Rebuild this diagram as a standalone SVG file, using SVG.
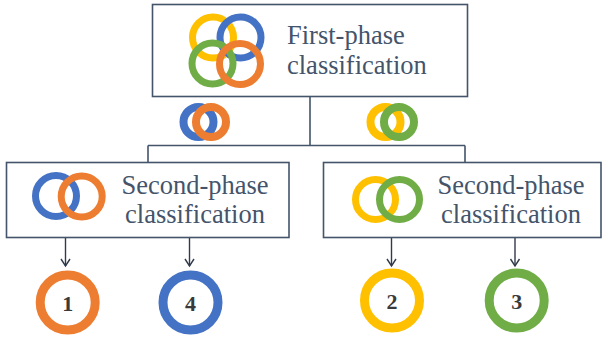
<svg xmlns="http://www.w3.org/2000/svg" width="602" height="339" viewBox="0 0 602 339">
<defs>
<marker id="arr" markerWidth="12" markerHeight="12" refX="8" refY="6" orient="auto" markerUnits="userSpaceOnUse">
<path d="M1,1.5 L8,6 L1,10.5" fill="none" stroke="#2f3a4a" stroke-width="1.4"/>
</marker>
</defs>
<style>
.box{fill:#fff;stroke:#44546A;stroke-width:1.6}
.lbl{font-family:"Liberation Serif","Times New Roman",serif;font-size:26.5px;fill:#44546A}
.num{font-family:"Liberation Serif","Times New Roman",serif;font-size:22px;font-weight:bold;fill:#3a3a3a;text-anchor:middle}
.ring{fill:none}
.y{stroke:#FFC000}.b{stroke:#4472C4}.g{stroke:#70AD47}.o{stroke:#ED7D31}
.con{fill:none;stroke:#44546A;stroke-width:1.6}
.ar{fill:none;stroke:#2f3a4a;stroke-width:1.4}
</style>
<rect width="602" height="339" fill="#fff"/>
<g id="connectors">
<path class="con" d="M310,97 V145.5 M148,145.5 H465 M148,145.5 V162.5 M465,145.5 V162.5"/>
<path class="ar" d="M65.5,238 V266" marker-end="url(#arr)"/>
<path class="ar" d="M189.5,238 V266" marker-end="url(#arr)"/>
<path class="ar" d="M391.5,238 V266" marker-end="url(#arr)"/>
<path class="ar" d="M515,238 V266" marker-end="url(#arr)"/>
</g>
<g id="first-phase">
<rect class="box" x="152.5" y="4.5" width="315" height="92"/>
<g stroke-width="7" class="ring">
<circle class="y" cx="213" cy="37.5" r="20.5"/>
<circle class="b" cx="240.5" cy="37.5" r="20.5"/>
<circle class="g" cx="212.5" cy="63.5" r="20.5"/>
<circle class="o" cx="240" cy="64" r="20.5"/>
</g>
<text class="lbl" x="287" y="43.5">First-phase</text>
<text class="lbl" x="287" y="73.5">classification</text>
</g>
<g id="group-blue-orange">
<circle class="ring b" cx="198.5" cy="122" r="15" stroke-width="8"/>
<circle class="ring o" cx="211" cy="122" r="15" stroke-width="8"/>
</g>
<g id="group-yellow-green">
<circle class="ring y" cx="385.5" cy="122" r="15" stroke-width="8"/>
<circle class="ring g" cx="399" cy="122" r="15" stroke-width="8"/>
</g>
<g id="second-phase-left">
<rect class="box" x="6.5" y="162.5" width="282.5" height="75"/>
<circle class="ring b" cx="56" cy="196" r="20.5" stroke-width="7"/>
<circle class="ring o" cx="81.7" cy="196.5" r="20.5" stroke-width="7"/>
<text class="lbl" x="195" y="193.5" text-anchor="middle">Second-phase</text>
<text class="lbl" x="195" y="222.5" text-anchor="middle">classification</text>
</g>
<g id="second-phase-right">
<rect class="box" x="323.5" y="162.5" width="277.5" height="75"/>
<circle class="ring y" cx="375.5" cy="199.5" r="20" stroke-width="7"/>
<circle class="ring g" cx="399.5" cy="199.5" r="20" stroke-width="7"/>
<text class="lbl" x="511" y="193.5" text-anchor="middle">Second-phase</text>
<text class="lbl" x="511" y="222.5" text-anchor="middle">classification</text>
</g>
<g id="class-1">
<circle class="ring o" cx="67.7" cy="302.5" r="27.5" stroke-width="9"/>
<text class="num" x="67.7" y="310.5">1</text>
</g>
<g id="class-4">
<circle class="ring b" cx="190.5" cy="302.5" r="27.5" stroke-width="9"/>
<text class="num" x="190.5" y="310.5">4</text>
</g>
<g id="class-2">
<circle class="ring y" cx="392" cy="300.5" r="27.5" stroke-width="9"/>
<text class="num" x="392" y="308.5">2</text>
</g>
<g id="class-3">
<circle class="ring g" cx="516.7" cy="300.5" r="27.5" stroke-width="9"/>
<text class="num" x="516.7" y="308.5">3</text>
</g>
</svg>
